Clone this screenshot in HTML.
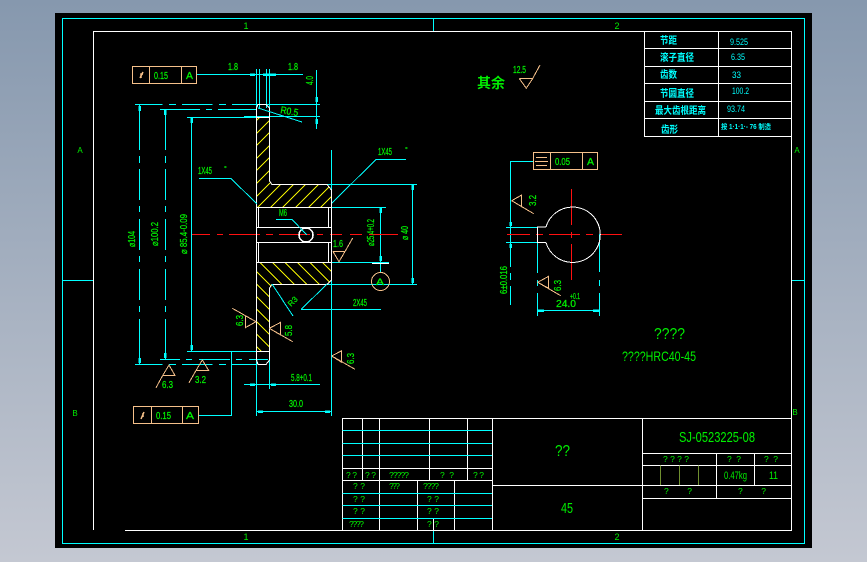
<!DOCTYPE html>
<html><head><meta charset="utf-8"><style>
html,body{margin:0;padding:0;width:867px;height:562px;overflow:hidden;background:linear-gradient(#8698ae,#c4c8d2)}
svg{position:absolute;left:0;top:0}
text{font-family:"Liberation Sans","Noto Sans CJK SC",sans-serif}
.g text,text.g{fill:#00f000}
.b text{stroke:#00f000;stroke-width:.25}
.c{stroke:#00ffff;fill:none;stroke-width:1}
.w{stroke:#fff;fill:none;stroke-width:1}
.o{stroke:#f5c08a;fill:none;stroke-width:1}
.r{stroke:#ff1010;fill:none;stroke-width:1}
.ct text{fill:#00ffff}
</style></head><body>
<svg width="867" height="562" viewBox="0 0 867 562">
<defs>
<clipPath id="ct"><path d="M256 117V207H331V190L327 184H272L269 181V117Z"/></clipPath>
<clipPath id="cb"><path d="M256 262H331V280L327 285H272L269 288V351H256Z"/></clipPath>
</defs>
<rect x="55" y="13" width="757" height="535" fill="#000"/>
<g clip-path="url(#ct)"><path shape-rendering="crispEdges" stroke="#f0f000" fill="none" d="M277 100L167 210M290 100L180 210M302 100L192 210M315 100L205 210M327 100L217 210M340 100L230 210M353 100L243 210M365 100L255 210M378 100L268 210M390 100L280 210M403 100L293 210M416 100L306 210M428 100L318 210"/></g>
<g clip-path="url(#cb)"><path shape-rendering="crispEdges" stroke="#f0f000" fill="none" d="M170 260L265 355M182.5 260L277.5 355M195 260L290 355M207.5 260L302.5 355M220 260L315 355M232.5 260L327.5 355M245 260L340 355M257.5 260L352.5 355M270 260L365 355M282.5 260L377.5 355M295 260L390 355M307.5 260L402.5 355M320 260L415 355"/></g>

<!-- frames -->
<g shape-rendering="crispEdges">
<rect class="c" x="62.5" y="18.5" width="742" height="525"/>
<path class="c" d="M433.5 18V31M433.5 530V543M62 280.5H93M791 280.5H804"/>
<path class="w" d="M93.5 530V31.5H791.5V530.5H125"/>
<!-- top-right table -->
<path class="w" d="M644.5 31.5V136.5H791.5M718.5 31.5V136.5M644.5 48.5H791.5M644.5 66.5H791.5M644.5 83.5H791.5M644.5 101.5H791.5M644.5 118.5H791.5"/>
<!-- title block -->
<path class="w" d="M342.5 530V418.5H791M362.5 418.5V480.5M379.5 418.5V530M429.5 418.5V480.5M467.5 418.5V480.5M492.5 418.5V530M342.5 468.5H492M342.5 480.5H492M417.5 480.5V530M454.5 480.5V530M433.5 519V530M642.5 418.5V530M492 485.5H791M642 453.5H791M642 465.5H791M716.5 453.5V498.5M754.5 453.5V485.5M642 498.5H791"/>
<path class="c" d="M342.5 430.5H492M342.5 443.5H492M342.5 455.5H492M342.5 493.5H492M342.5 505.5H492M342.5 518.5H492"/>
<path d="M660.5 465.5V485M679.5 465.5V485M698.5 465.5V485" stroke="#6f8f2f" fill="none"/>

<!-- tolerance boxes -->
<path class="o" d="M132.5 66.5H196.5V83.5H132.5ZM149.5 66.5V83.5M181.5 66.5V83.5M133.5 406.5H198.5V423.5H133.5ZM151.5 406.5V423.5M182.5 406.5V423.5M533.5 152.5H597.5V169.5H533.5ZM550.5 152.5V169.5M582.5 152.5V169.5"/>
<path class="o" d="M536 157.5H547M535 161.5H548M536 165.5H547"/>

<!-- dim / ext lines -->
<path class="c" d="M197 74.5H303M256.5 69V117M259.5 69V108M266.5 69V108M269.5 69V117M316.5 70V129M244 116.5H320M187 117.5H256M135 104.5H162.5M169 104.5H176M182 104.5H212.5M219 104.5H226M232 104.5H320M160 109.5H200M206 109.5H212M218 109.5H256"/>
<path class="c" d="M139.5 105V150M139.5 156V163M139.5 169V200M139.5 206V212M139.5 219V250M139.5 256V262M139.5 269V300M139.5 306V312M139.5 319V364M165.5 110V150M165.5 156V163M165.5 169V200M165.5 206V212M165.5 219V250M165.5 256V262M165.5 269V300M165.5 306V312M165.5 319V359M191.5 117V351"/>
<path class="c" d="M135 364.5H162.5M169 364.5H176M182 364.5H212.5M219 364.5H226M232 364.5H256M160 359.5H180M186 359.5H192M199 359.5H230M236 359.5H242M249 359.5H268M187 351.5H269M199 415.5H231.5V351M269.5 351V389M244 384.5H320M256.5 351V416M256 411.5H331"/>
<path class="c" d="M331.5 150V416M327 184.5H417M272 284.5H417M412.5 184V284M331 207.5H386M331 262.5H389M380.5 207V272M276 219.5H292M406 159.5H376M199 178.5H231M301 309.5H381"/>
<!-- right view dim -->
<path class="c" d="M533 161.5H510.5V267M510.5 273V280M510.5 286V305M506 227.5H537M506 242.5H537M537.5 242V273M537.5 280V286M537.5 293V316M599.5 234V272M599.5 280V286M599.5 293V316M537 310.5H599"/>
<path class="r" d="M507 234.5H530M536 234.5H543M549 234.5H580M586 234.5H593M600 234.5H622M571.5 189V225M571.5 232V238M571.5 244V280M192 234.5H210M217 234.5H223M229 234.5H260M266 234.5H273M279 234.5H310M317 234.5H323M330 234.5H342M350 234.5H362M369 234.5H398"/>
<!-- arrows -->
<g stroke="#00ffff" stroke-width="2.5" fill="none">
<path d="M139.5 106V111M165 110V115M191.5 118V123M139.5 358V363M165 353V358M191.5 345V350M250 74.5H255M263 74.5H276M316.5 97V102M316.5 119V124M250 384.5H255M271 384.5H276M258 411.5H263M325 411.5H330M412.5 185V190M412.5 278V283M380.5 208V213M380.5 256V261M510.5 222V226M510.5 244V248M538 310.5H544M593 310.5H599"/>
</g>
<!-- part outline -->
<path class="w" d="M256.5 117V351M269.5 117V181M256 207.5H331M258.5 207V227M328.5 207V227M256 227.5H331M256 242.5H331M256 262.5H331M258.5 242V262M328.5 242V262M331.5 190V280M256 117.5H269M256 351.5H269M372 263.5H389"/>
</g>
<g shape-rendering="crispEdges">
<path class="w" d="M269.5 181L272 184.5H327L331.5 190M331.5 280L327 284.5H272L269.5 288V351M256.5 117V108L258 104.5H266L269.5 108V117M256.5 351V360L258 364.5H266L269.5 360V351"/>
<circle cx="306" cy="235" r="7" fill="none" stroke="#fff" stroke-width="1.6"/>
<path class="c" d="M292 219.5L307 235M376 159.5L332 203M301 309.5L327 284M272 284L293 316M231 178.5L257 204M258 108L302 122"/>
<!-- right view outline -->
<path class="w" d="M546 227H537.5V242.5H546M546 227A27.7 27.7 0 1 1 546 242.5"/>
<!-- surface marks -->
<path class="o" d="M333 251.5H345L339 261.7L333 251.5M345 251.5L352.7 238M519.3 78.5H532.7L526.3 88.3L519.3 78.5M532.7 78.5L540 65M162.7 375.5H175L169 365L162.7 375.5L156 387.7M196 370.5H208.7L202.3 360L196 370.5L189 382.7"/>
<path class="o" d="M511.7 200.7L521.7 195V206.7L511.7 200.7L533.7 213.7M537.7 282.3L548.7 276.3V288.3L537.7 282.3L560.7 295.7M331.7 356L341.7 350.7V362.3L331.7 356L355 369.3M256 321.7L245.3 315.7V327.7L256 321.7L232.3 308.3M269.3 328.3L280.7 322.3V335L269.3 328.3L292.7 341.7"/>
<circle cx="380.5" cy="281.5" r="9" fill="none" stroke="#f5c08a"/>
</g>
<path d="M140 78L143 72M141 78V74H143" stroke="#f5c08a" fill="none" stroke-width="1.5"/>
<path d="M143 413V417M141 419L144 412" stroke="#f5c08a" fill="none" stroke-width="1.5"/>

<!-- labels -->
<g class="g" font-size="9">
<text x="80" y="153" font-size="8" text-anchor="middle">A</text>
<text x="75" y="416" font-size="8" text-anchor="middle">B</text>
<text x="797" y="153" font-size="8" text-anchor="middle">A</text>
<text x="795" y="415" font-size="8" text-anchor="middle">B</text>
<text x="246" y="29" text-anchor="middle">1</text>
<text x="617" y="29" text-anchor="middle">2</text>
<text x="246" y="540" text-anchor="middle">1</text>
<text x="617" y="540" text-anchor="middle">2</text>
</g>
<g class="g b" font-size="10">
<text x="228" y="70" textLength="10" lengthAdjust="spacingAndGlyphs">1.8</text>
<text x="288" y="70" textLength="10" lengthAdjust="spacingAndGlyphs">1.8</text>
<text x="154" y="79" textLength="14" lengthAdjust="spacingAndGlyphs">0.15</text>
<text x="186" y="79" textLength="7" lengthAdjust="spacingAndGlyphs">A</text>
<text x="156" y="419" textLength="15" lengthAdjust="spacingAndGlyphs">0.15</text>
<text x="186" y="419" textLength="8" lengthAdjust="spacingAndGlyphs">A</text>
<text x="555" y="165" textLength="15" lengthAdjust="spacingAndGlyphs">0.05</text>
<text x="587" y="165" textLength="7" lengthAdjust="spacingAndGlyphs">A</text>
<text x="198" y="174" textLength="14" lengthAdjust="spacingAndGlyphs">1X45</text>
<text x="224" y="171" font-size="7">°</text>
<text x="378" y="155" textLength="14" lengthAdjust="spacingAndGlyphs">1X45</text>
<text x="405" y="152" font-size="7">°</text>
<text x="353" y="306" textLength="14" lengthAdjust="spacingAndGlyphs">2X45</text>
<text x="279" y="216" textLength="8" lengthAdjust="spacingAndGlyphs">M6</text>
<text x="333" y="247" textLength="10" lengthAdjust="spacingAndGlyphs">1.6</text>
<text x="513" y="73" textLength="13" lengthAdjust="spacingAndGlyphs">12.5</text>
<text x="162" y="388" textLength="11" lengthAdjust="spacingAndGlyphs">6.3</text>
<text x="195" y="383" textLength="11" lengthAdjust="spacingAndGlyphs">3.2</text>
<text x="291" y="381" textLength="21" lengthAdjust="spacingAndGlyphs">5.8+0.1</text>
<text x="289" y="407" textLength="14" lengthAdjust="spacingAndGlyphs">30.0</text>
<text x="556" y="307" textLength="20" lengthAdjust="spacingAndGlyphs">24.0</text>
<text x="570" y="299" font-size="8" textLength="10" lengthAdjust="spacingAndGlyphs">+0.1</text>
<text x="376" y="285" font-size="9" textLength="8" lengthAdjust="spacingAndGlyphs">A</text>
<text transform="translate(135,247) rotate(-90)" textLength="16" lengthAdjust="spacingAndGlyphs">⌀104</text>
<text transform="translate(158,246) rotate(-90)" textLength="24" lengthAdjust="spacingAndGlyphs">⌀100.2</text>
<text transform="translate(187,254) rotate(-90)" textLength="40" lengthAdjust="spacingAndGlyphs">⌀ 85.4-0.09</text>
<text transform="translate(313,85) rotate(-90)" textLength="9" lengthAdjust="spacingAndGlyphs">4.0</text>
<text transform="translate(374,246) rotate(-90)" textLength="27" lengthAdjust="spacingAndGlyphs">⌀25.4+0.2</text>
<text transform="translate(408,240) rotate(-90)" textLength="14" lengthAdjust="spacingAndGlyphs">⌀ 40</text>
<text transform="translate(507,294) rotate(-90)" textLength="28" lengthAdjust="spacingAndGlyphs">6±0.016</text>
<text transform="translate(536,206) rotate(-90)" textLength="11" lengthAdjust="spacingAndGlyphs">3.2</text>
<text transform="translate(561,291) rotate(-90)" textLength="11" lengthAdjust="spacingAndGlyphs">6.3</text>
<text transform="translate(243,326) rotate(-90)" textLength="11" lengthAdjust="spacingAndGlyphs">6.3</text>
<text transform="translate(292,336) rotate(-90)" textLength="11" lengthAdjust="spacingAndGlyphs">5.8</text>
<text transform="translate(354,364) rotate(-90)" textLength="11" lengthAdjust="spacingAndGlyphs">6.3</text>
<text transform="translate(280,113) rotate(10)" textLength="18" lengthAdjust="spacingAndGlyphs">R0.5</text>
<text transform="translate(291,307) rotate(-45)" font-size="8">R3</text>
</g>
<text class="g" x="477" y="88" font-size="14" font-weight="bold" textLength="28" lengthAdjust="spacingAndGlyphs">其余</text>
<g class="g" font-size="13">
<text x="654" y="339" font-size="16" textLength="31" lengthAdjust="spacingAndGlyphs">????</text>
<text x="622" y="361" font-size="14" textLength="74" lengthAdjust="spacingAndGlyphs">????HRC40-45</text>
<text x="679" y="442" font-size="15" textLength="76" lengthAdjust="spacingAndGlyphs">SJ-0523225-08</text>
<text x="555" y="456" font-size="16" textLength="15" lengthAdjust="spacingAndGlyphs">??</text>
<text x="561" y="513" font-size="15" textLength="12" lengthAdjust="spacingAndGlyphs">45</text>
<text x="724" y="479" font-size="11" textLength="23" lengthAdjust="spacingAndGlyphs">0.47kg</text>
<text x="769" y="479" font-size="11" textLength="9" lengthAdjust="spacingAndGlyphs">11</text>
</g>
<g class="g" font-size="8.5">
<text x="663" y="462" textLength="26">? ? ? ?</text>
<text x="727" y="462" textLength="14">? ?</text>
<text x="764" y="462" textLength="14">? ?</text>
<text x="664" y="494" textLength="28">?&#160;&#160;&#160;?</text>
<text x="738" y="494" textLength="28">?&#160;&#160;&#160;?</text>
<text x="346" y="478" textLength="11">??</text>
<text x="365" y="478" textLength="11">??</text>
<text x="389" y="478" textLength="20">?????</text>
<text x="440" y="478" textLength="14">? ?</text>
<text x="473" y="478" textLength="11">? ?</text>
<text x="353" y="489" textLength="12">? ?</text>
<text x="389" y="489" textLength="11">???</text>
<text x="423" y="489" textLength="16">????</text>
<text x="353" y="502" textLength="12">? ?</text>
<text x="427" y="502" textLength="12">? ?</text>
<text x="353" y="514" textLength="12">? ?</text>
<text x="427" y="514" textLength="12">? ?</text>
<text x="349" y="527" textLength="15">????</text>
<text x="427" y="527" textLength="12">? ?</text>
</g>
<g class="ct" font-size="10" font-weight="bold">
<text x="660" y="44" textLength="17" lengthAdjust="spacingAndGlyphs">节距</text>
<text x="660" y="61" textLength="34" lengthAdjust="spacingAndGlyphs">滚子直径</text>
<text x="660" y="78" textLength="17" lengthAdjust="spacingAndGlyphs">齿数</text>
<text x="660" y="97" textLength="34" lengthAdjust="spacingAndGlyphs">节圆直径</text>
<text x="655" y="114" textLength="51" lengthAdjust="spacingAndGlyphs">最大齿根距离</text>
<text x="661" y="133" textLength="17" lengthAdjust="spacingAndGlyphs">齿形</text>
<text x="730" y="45" font-weight="normal" font-size="9" textLength="18" lengthAdjust="spacingAndGlyphs">9.525</text>
<text x="731" y="60" font-weight="normal" font-size="9" textLength="14" lengthAdjust="spacingAndGlyphs">6.35</text>
<text x="732" y="78" font-weight="normal" font-size="9" textLength="9" lengthAdjust="spacingAndGlyphs">33</text>
<text x="732" y="94" font-weight="normal" font-size="9" textLength="17" lengthAdjust="spacingAndGlyphs">100.2</text>
<text x="727" y="112" font-weight="normal" font-size="9" textLength="18" lengthAdjust="spacingAndGlyphs">93.74</text>
<text x="721" y="129" font-size="7" textLength="50" lengthAdjust="spacingAndGlyphs">按 1·1·1·- 76 制造</text>
</g>
</svg>
</body></html>
